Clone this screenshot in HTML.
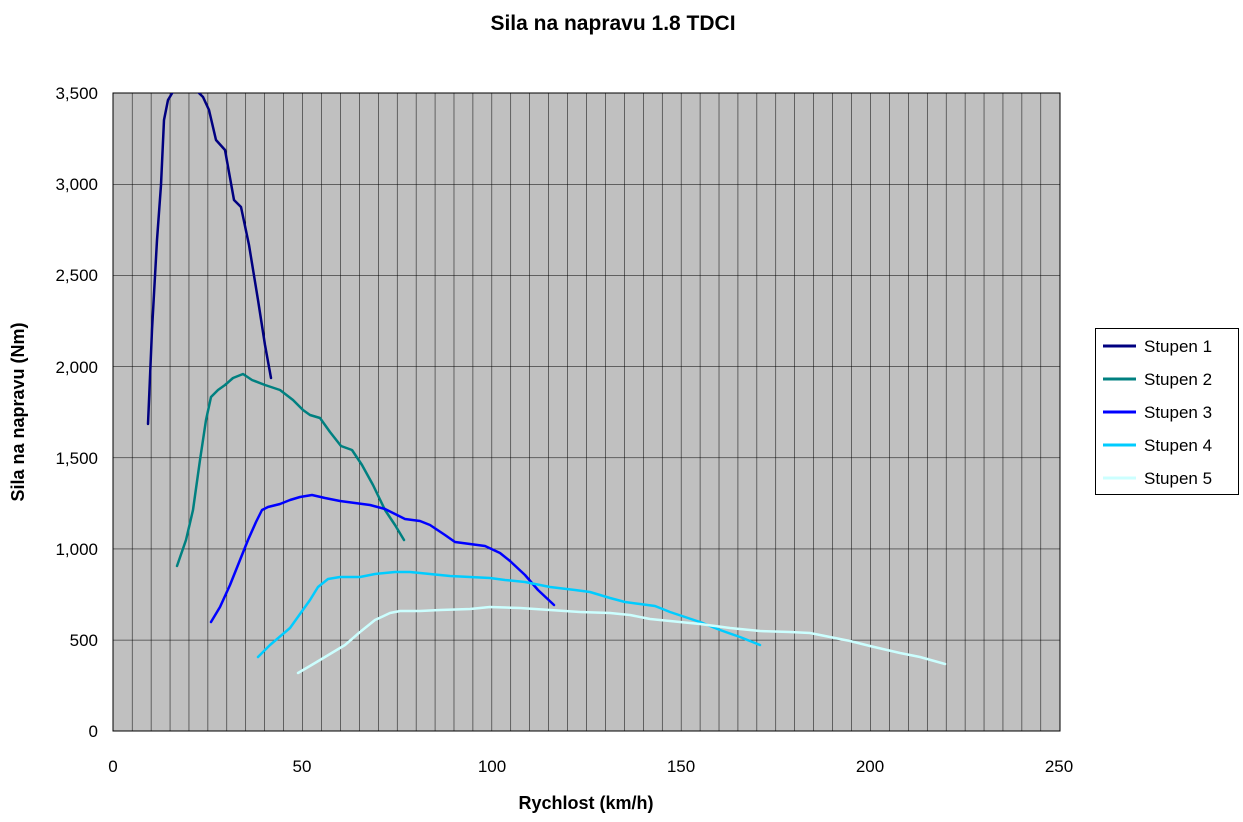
<!DOCTYPE html>
<html><head><meta charset="utf-8"><style>
body{margin:0;background:#fff;}
text{font-family:"Liberation Sans",Arial,sans-serif;}
</style></head><body>
<svg width="1243" height="817" xmlns="http://www.w3.org/2000/svg">
<defs>
<pattern id="g" x="113" y="93" width="18.93" height="91.14" patternUnits="userSpaceOnUse">
<rect width="18.93" height="91.14" fill="#c0c0c0"/>
<line x1="0" y1="0" x2="0" y2="91.14" stroke="#000" stroke-width="1"/>
<line x1="0" y1="0" x2="18.93" y2="0" stroke="#000" stroke-width="1"/>
</pattern>
<clipPath id="c"><rect x="113" y="93" width="947" height="638"/></clipPath>
</defs>
<text x="613" y="30" font-size="21" font-weight="bold" text-anchor="middle">Sila na napravu 1.8 TDCI</text>
<rect x="113" y="93" width="947" height="638" fill="url(#g)" stroke="#000" stroke-width="1"/>
<g clip-path="url(#c)" fill="none" stroke-width="2.5" stroke-linejoin="round" stroke-linecap="round">
<polyline stroke="#000080" points="148,424 152,330 157,240 161,185 164,120 168,100 174,90 185,85 196,90 203,97 209,110 216,140 225,150 234,200 241,207 249,245 258,300 265,345 271,378"/>
<polyline stroke="#008080" points="177,566 186,540 193,510 200,460 206,420 211,397 218,390 225,385 233,378 243,374 252,380 265,385 280,390 293,400 303,410 310,415 320,418 330,432 341,446 352,450 362,465 373,485 385,510 395,525 404,540"/>
<polyline stroke="#0000ff" points="211,622 220,607 230,585 240,560 248,540 256,522 262,510 268,507 280,504 290,500 300,497 312,495 325,498 340,501 355,503 370,505 385,509 395,514 405,519 420,521 430,525 445,535 455,542 470,544 485,546 500,553 510,561 525,575 538,590 554,605"/>
<polyline stroke="#00ccff" points="258,657 270,645 290,628 300,614 310,600 318,587 328,579 340,577 360,577 375,574 395,572 410,572 430,574 450,576 470,577 490,578 505,580 525,582 550,587 575,590 590,592 610,598 625,602 640,604 655,606 670,612 685,617 700,622 720,630 740,637 760,645"/>
<polyline stroke="#ccffff" points="298,673 315,663 330,654 345,645 360,632 375,620 390,613 400,611 420,611 440,610 470,609 490,607 520,608 550,610 580,612 610,613 630,615 650,619 670,621 700,624 730,628 760,631 790,632 810,633 830,637 850,641 870,646 900,653 920,657 945,664"/>
</g>
<g font-size="17" text-anchor="end">
<text x="98" y="99">3,500</text><text x="98" y="190">3,000</text><text x="98" y="281">2,500</text><text x="98" y="373">2,000</text><text x="98" y="464">1,500</text><text x="98" y="555">1,000</text><text x="98" y="646">500</text><text x="98" y="737">0</text>
</g>
<g font-size="17" text-anchor="middle">
<text x="113" y="772">0</text><text x="302" y="772">50</text><text x="492" y="772">100</text><text x="681" y="772">150</text><text x="870" y="772">200</text><text x="1059" y="772">250</text>
</g>
<text x="586" y="809" font-size="18" font-weight="bold" text-anchor="middle">Rychlost (km/h)</text>
<text transform="translate(24,412) rotate(-90)" font-size="18" font-weight="bold" text-anchor="middle">Sila na napravu (Nm)</text>
<rect x="1095.5" y="328.5" width="143" height="166" fill="#fff" stroke="#000"/>
<g stroke-width="3">
<line x1="1103" y1="346" x2="1136" y2="346" stroke="#000080"/>
<line x1="1103" y1="379" x2="1136" y2="379" stroke="#008080"/>
<line x1="1103" y1="412" x2="1136" y2="412" stroke="#0000ff"/>
<line x1="1103" y1="445" x2="1136" y2="445" stroke="#00ccff"/>
<line x1="1103" y1="478" x2="1136" y2="478" stroke="#ccffff"/>
</g>
<g font-size="17">
<text x="1144" y="352">Stupen 1</text><text x="1144" y="385">Stupen 2</text><text x="1144" y="418">Stupen 3</text><text x="1144" y="451">Stupen 4</text><text x="1144" y="484">Stupen 5</text>
</g>
</svg>
</body></html>
